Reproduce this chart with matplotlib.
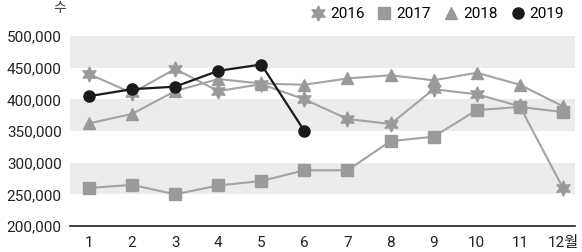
import matplotlib
matplotlib.use("Agg")
import matplotlib.pyplot as plt
from matplotlib.ticker import FuncFormatter

plt.rcParams['font.family'] = ['Roboto', 'Noto Sans CJK KR', 'DejaVu Sans']

months = [1, 2, 3, 4, 5, 6, 7, 8, 9, 10, 11, 12]
month_labels = ['1', '2', '3', '4', '5', '6', '7', '8', '9', '10', '11', '12월']
s2016 = [440000, 410000, 448000, 413000, 424000, 400000, 369000, 361000, 416000, 408000, 389000, 260000]
s2017 = [260000, 265000, 250000, 264000, 271000, 288000, 288000, 334000, 341000, 383000, 388000, 380000]
s2018 = [362000, 377000, 413000, 432000, 425000, 423000, 433000, 438000, 430000, 442000, 423000, 389000]
months_2019 = [1, 2, 3, 4, 5, 6]
s2019 = [405000, 416000, 420000, 445000, 455000, 350000]
yticks = [200000, 250000, 300000, 350000, 400000, 450000, 500000]

fig = plt.figure(figsize=(5.82, 2.52), dpi=100)
ax = fig.add_axes([70/582, 1-226/252, 505/582, 190/252])

band = '#ececec'
for lo in (250000, 350000, 450000):
    ax.axhspan(lo, lo + 50000, color=band, lw=0, zorder=0)

line_c = '#a3a3a3'
mk_c = '#9a9a9a'
ax.plot(months, s2018, color=line_c, lw=1.5, marker='^', ms=9, mfc=mk_c, mec=mk_c, label='2018', zorder=2)
ax.plot(months, s2017, color=line_c, lw=1.5, marker='s', ms=9, mfc=mk_c, mec=mk_c, label='2017', zorder=2)
ax.plot(months, s2016, color=line_c, lw=1.5, marker=(6, 1, 0), ms=11, mfc=mk_c, mec=mk_c, label='2016', zorder=3)
ax.plot(months_2019, s2019, color='#1a1a1a', lw=1.6, marker='o', ms=8, mfc='#1a1a1a', mec='#1a1a1a', label='2019', zorder=4)

ax.set_xlim(0.56, 12.28)
ax.set_ylim(200000, 500000)
ax.set_yticks(yticks)
ax.yaxis.set_major_formatter(FuncFormatter(lambda v, p: f"{int(v):,}"))
ax.set_xticks(months)
ax.set_xticklabels(month_labels)
for s in ('top', 'right', 'left'):
    ax.spines[s].set_visible(False)
ax.spines['bottom'].set_color('#222222')
ax.spines['bottom'].set_linewidth(1.2)
ax.tick_params(axis='both', length=0, labelsize=11, colors='#222222')
ax.tick_params(axis='y', pad=6)
ax.tick_params(axis='x', pad=7)

fig.text(60/582, 1-8/252, '수', fontsize=10, color='#444444', ha='center', va='center')

handles, labels = ax.get_legend_handles_labels()
order = [2, 1, 0, 3]
leg = fig.legend([handles[i] for i in order], [labels[i] for i in order],
                 loc='center right', bbox_to_anchor=(578/582, 1-14/252), ncol=4, frameon=False,
                 fontsize=11, handlelength=1.0, handletextpad=0.3, columnspacing=0.8)
for h in leg.legend_handles:
    h.set_linestyle('none')

fig.savefig('out.png', dpi=100)
